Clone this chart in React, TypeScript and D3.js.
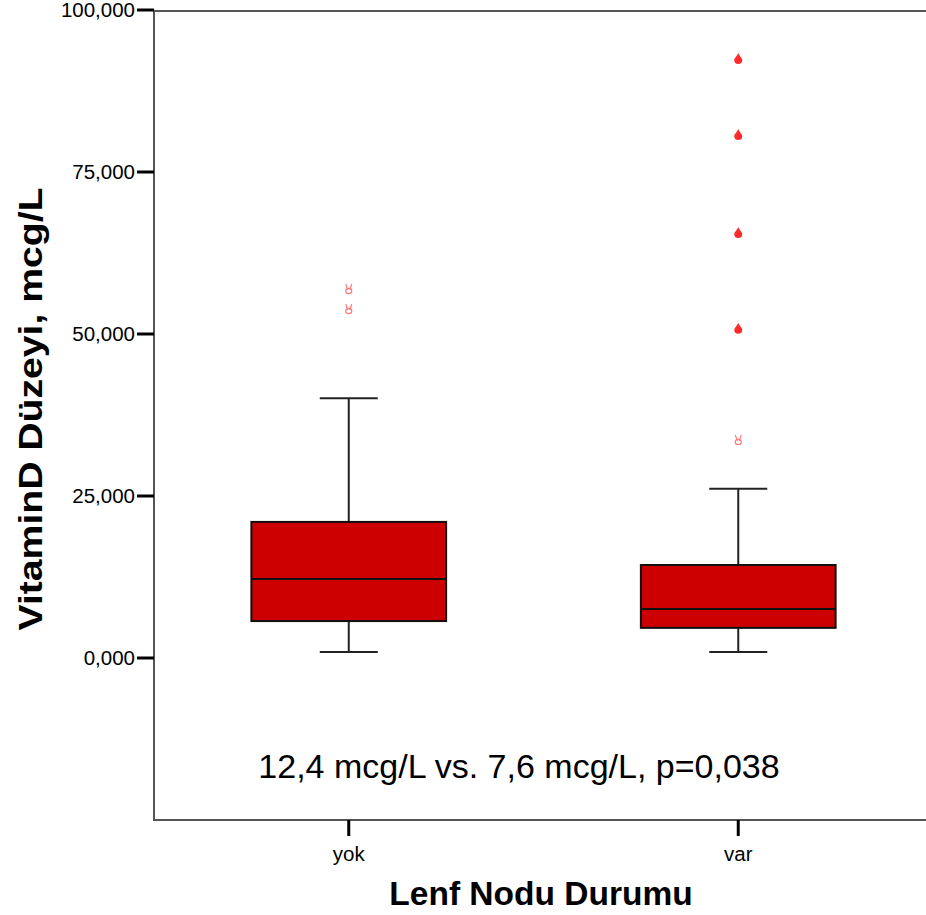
import React, { useEffect, useRef } from 'react';
import * as d3 from 'd3';

// groups on the x axis
const categories = ['yok', 'var'];
// box statistics
const lowWhisker = [930, 930];
const q1 = [5700, 4650];
const medians = [12200, 7550];
const q3 = [21000, 14350];
const highWhisker = [40100, 26100];
// mild outliers (pink glyph) and extremes (red drop)
const mildOutliers = [[56800, 53700], [33500]];
const extremeOutliers = [[], [92600, 80850, 65750, 50950]];
const yTicks = [0, 25000, 50000, 75000, 100000];
const yTickLabels = ['0,000', '25,000', '50,000', '75,000', '100,000'];
const annotation = '12,4 mcg/L vs. 7,6 mcg/L, p=0,038';

const W = 926;
const H = 915;
const FONT = 'Liberation Sans, Arial, sans-serif';

const App = () => {
  const svgRef = useRef<SVGSVGElement>(null);

  useEffect(() => {
    const svg = d3.select(svgRef.current);
    svg.selectAll('*').remove();

    const left = 154;
    const right = 933;
    const top = 10;
    const bottom = 820;

    const y = d3.scaleLinear().domain([-25000, 100000]).range([bottom, top]);
    const x = d3.scaleBand().domain(categories).range([left, right]).paddingInner(0).paddingOuter(0);
    const step = x.bandwidth();
    const boxW = step / 2;
    const capW = 58;

    // frame
    svg.append('rect')
      .attr('x', left).attr('y', top + 1)
      .attr('width', right - left).attr('height', bottom - top - 1)
      .attr('fill', 'none').attr('stroke', '#555').attr('stroke-width', 2);

    // y ticks
    const gy = svg.append('g');
    yTicks.forEach((t, i) => {
      gy.append('line')
        .attr('x1', left - 17).attr('x2', left)
        .attr('y1', y(t)).attr('y2', y(t))
        .attr('stroke', '#000').attr('stroke-width', 3);
      gy.append('text')
        .attr('x', left - 19).attr('y', y(t) + 7)
        .attr('text-anchor', 'end')
        .attr('font-family', FONT)
        .attr('font-size', 20.5)
        .text(yTickLabels[i]);
    });

    // x ticks
    categories.forEach(c => {
      const cx = x(c)! + step / 2;
      svg.append('line')
        .attr('x1', cx).attr('x2', cx)
        .attr('y1', bottom).attr('y2', bottom + 16)
        .attr('stroke', '#000').attr('stroke-width', 3);
      svg.append('text')
        .attr('x', cx).attr('y', bottom + 41)
        .attr('text-anchor', 'middle')
        .attr('font-family', FONT)
        .attr('font-size', 20.5)
        .text(c);
    });

    // boxes
    categories.forEach((c, i) => {
      const cx = x(c)! + step / 2;
      const g = svg.append('g');
      g.append('line')
        .attr('x1', cx).attr('x2', cx)
        .attr('y1', y(lowWhisker[i])).attr('y2', y(q1[i]))
        .attr('stroke', '#222').attr('stroke-width', 2);
      g.append('line')
        .attr('x1', cx).attr('x2', cx)
        .attr('y1', y(q3[i])).attr('y2', y(highWhisker[i]))
        .attr('stroke', '#222').attr('stroke-width', 2);
      [lowWhisker[i], highWhisker[i]].forEach(v => {
        g.append('line')
          .attr('x1', cx - capW / 2).attr('x2', cx + capW / 2)
          .attr('y1', y(v)).attr('y2', y(v))
          .attr('stroke', '#222').attr('stroke-width', 2);
      });
      g.append('rect')
        .attr('x', cx - boxW / 2).attr('y', y(q3[i]))
        .attr('width', boxW).attr('height', y(q1[i]) - y(q3[i]))
        .attr('fill', '#cc0000').attr('stroke', '#111').attr('stroke-width', 2);
      g.append('line')
        .attr('x1', cx - boxW / 2).attr('x2', cx + boxW / 2)
        .attr('y1', y(medians[i])).attr('y2', y(medians[i]))
        .attr('stroke', '#111').attr('stroke-width', 2);

      mildOutliers[i].forEach(v => {
        const py = y(v);
        // small "victory hand"-like glyph used by the source for outliers
        g.append('path')
          .attr('d', `M${cx - 3},${py - 6} L${cx - 1},${py} M${cx + 3},${py - 6} L${cx + 1},${py} M${cx - 3},${py + 1} A3,2.6 0 1 0 ${cx + 3},${py + 1} A3,2.6 0 1 0 ${cx - 3},${py + 1}`)
          .attr('fill', 'none')
          .attr('stroke', '#ff7b7b')
          .attr('stroke-width', 1.2);
      });
      extremeOutliers[i].forEach(v => {
        const py = y(v);
        g.append('path')
          .attr('d', `M${cx},${py - 5} C${cx + 1},${py - 2} ${cx + 4},${py} ${cx + 4},${py + 2} A4,4 0 0 1 ${cx - 4},${py + 2} C${cx - 4},${py} ${cx - 1},${py - 2} ${cx},${py - 5} Z`)
          .attr('fill', '#ff2a2a');
      });
    });

    // annotation
    svg.append('text')
      .attr('x', 519).attr('y', 778)
      .attr('text-anchor', 'middle')
      .attr('font-family', FONT)
      .attr('font-size', 34)
      .text(annotation);

    // axis titles
    svg.append('text')
      .attr('x', 541).attr('y', 905)
      .attr('text-anchor', 'middle')
      .attr('font-family', FONT)
      .attr('font-weight', 'bold')
      .attr('font-size', 33.5)
      .text('Lenf Nodu Durumu');

    svg.append('text')
      .attr('transform', `translate(42,409) rotate(-90)`)
      .attr('text-anchor', 'middle')
      .attr('font-family', FONT)
      .attr('font-weight', 'bold')
      .attr('font-size', 34)
      .attr('textLength', 443)
      .attr('lengthAdjust', 'spacingAndGlyphs')
      .text('VitaminD Düzeyi, mcg/L');
  }, []);

  return (
    <svg
      ref={svgRef}
      width={W}
      height={H}
      style={{ position: 'absolute', top: 0, left: 0, background: '#fff' }}
    />
  );
};

export default App;
